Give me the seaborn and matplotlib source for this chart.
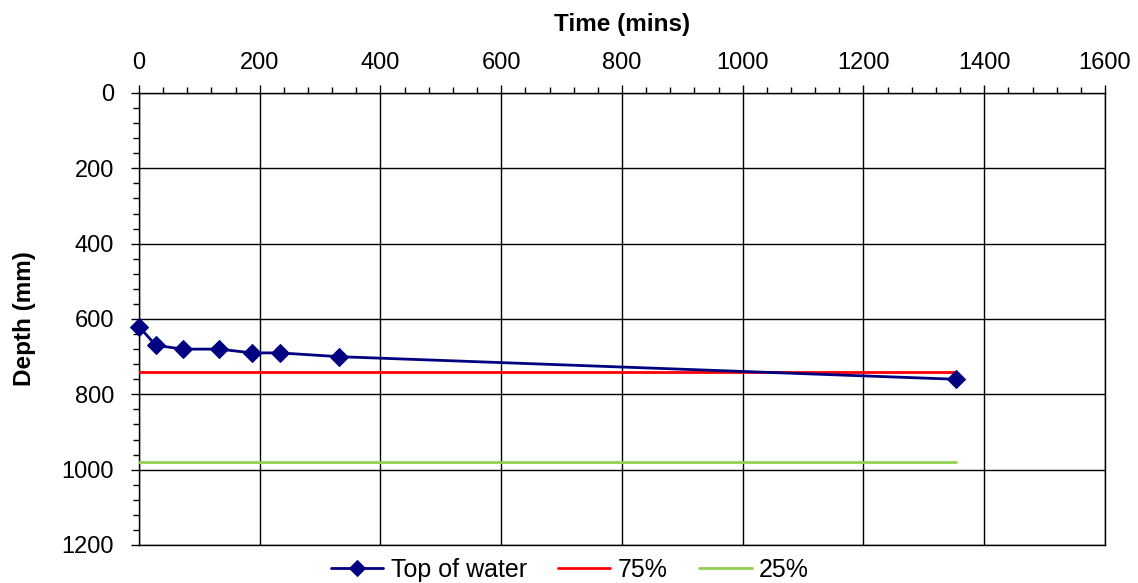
import matplotlib
matplotlib.use("Agg")
import matplotlib.pyplot as plt
from matplotlib.ticker import MultipleLocator
import seaborn as sns
import pandas as pd

# Soakage test readings
time_mins = [0, 28, 73, 133, 187, 233, 331, 1353]
depth_mm = [620, 670, 680, 680, 690, 690, 700, 760]

# Reference depth levels, drawn across the test period
level_times = [0, 1353]
depth_75 = [740, 740]
depth_25 = [980, 980]

sns.set_theme(style="white")
plt.rcParams["font.family"] = ["Liberation Sans", "DejaVu Sans"]
plt.rcParams["text.color"] = "black"
plt.rcParams["axes.labelcolor"] = "black"
plt.rcParams["xtick.color"] = "black"
plt.rcParams["ytick.color"] = "black"

fig = plt.figure(figsize=(11.38, 5.83), dpi=100)
ax = fig.add_axes([0.1221, 0.0652, 0.971 - 0.1221, 0.8405 - 0.0652])

water = pd.DataFrame({"Time": time_mins, "Depth": depth_mm})
lvl75 = pd.DataFrame({"Time": level_times, "Depth": depth_75})
lvl25 = pd.DataFrame({"Time": level_times, "Depth": depth_25})

sns.lineplot(data=water, x="Time", y="Depth", ax=ax, color="#000080", lw=2,
             marker="D", markersize=9.5, markeredgecolor="#000080",
             label="Top of water", sort=False, clip_on=False, zorder=5)
sns.lineplot(data=lvl75, x="Time", y="Depth", ax=ax, color="#FF0000", lw=2,
             label="75%", zorder=4)
sns.lineplot(data=lvl25, x="Time", y="Depth", ax=ax, color="#92D050", lw=2,
             label="25%", zorder=4)

ax.set_xlim(0, 1600)
ax.set_ylim(1200, 0)
ax.xaxis.set_major_locator(MultipleLocator(200))
ax.xaxis.set_minor_locator(MultipleLocator(40))
ax.yaxis.set_major_locator(MultipleLocator(200))
ax.yaxis.set_minor_locator(MultipleLocator(40))
ax.xaxis.tick_top()
ax.xaxis.set_label_position("top")
ax.tick_params(axis="both", which="major", direction="out", length=6,
               width=1, color="black", labelsize=17)
ax.tick_params(axis="x", which="major", pad=8)
ax.tick_params(axis="y", which="major", pad=12)
ax.tick_params(axis="both", which="minor", direction="out", length=4,
               width=1, color="black")
ax.tick_params(axis="x", which="both", top=True, bottom=False)
ax.tick_params(axis="y", which="both", left=True, right=False)

ax.grid(True, which="major", color="black", lw=1)
for s in ax.spines.values():
    s.set_color("black")
    s.set_linewidth(1)
    s.set_visible(True)

ax.set_xlabel("Time (mins)", fontsize=17.5, fontweight="bold", labelpad=15)
ax.set_ylabel("Depth (mm)", fontsize=17.5, fontweight="bold", labelpad=18)

ax.legend(loc="center", bbox_to_anchor=(0.446, -0.0553), ncol=3,
          frameon=False, fontsize=18, handlelength=2.1, columnspacing=1.25,
          handletextpad=0.3, markerscale=0.85, borderpad=0.0)

fig.savefig("out.png", dpi=100)
